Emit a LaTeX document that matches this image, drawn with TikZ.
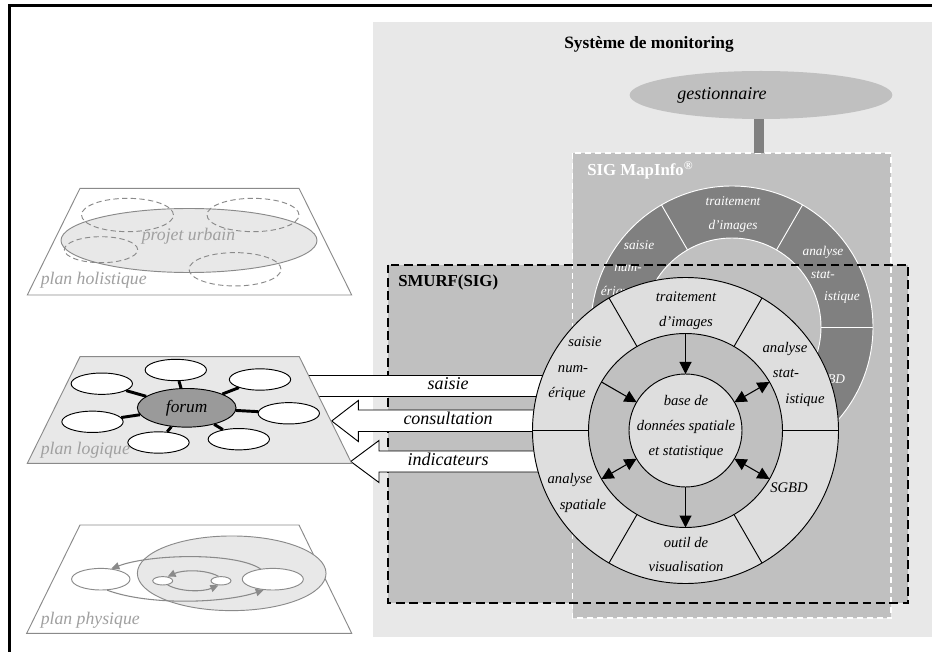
\documentclass[tikz,border=0pt]{standalone}
\usepackage{fontspec}
\setmainfont{Liberation Serif}
\usetikzlibrary{arrows.meta,calc,shapes.geometric,fit}

\definecolor{paleGray}{HTML}{E8E8E8}
\definecolor{boxGray}{HTML}{C0C0C0}
\definecolor{ringDark}{HTML}{808080}
\definecolor{ringPale}{HTML}{DEDEDE}
\definecolor{planeEdge}{HTML}{8A8A8A}
\definecolor{planeInk}{HTML}{A0A0A0}
\definecolor{forumFill}{HTML}{9A9A9A}

\tikzset{
  lbl/.style={inner sep=0pt, text height=1ex, text depth=0pt},
  wtext/.style={lbl, font=\fontsize{11}{13}\selectfont\itshape},
  stext/.style={lbl, font=\fontsize{10}{12}\selectfont\itshape, text=white},
  ptext/.style={lbl, anchor=west, font=\fontsize{13.3}{15}\selectfont\itshape, text=planeInk},
  atext/.style={lbl, font=\fontsize{13.5}{15}\selectfont\itshape},
  boldlbl/.style={lbl, font=\fontsize{12.6}{14}\selectfont\bfseries},
  plane/.style={draw=planeEdge, line width=0.7pt},
  bubble/.style={ellipse, draw=black, fill=white, line width=0.7pt,
    minimum width=46pt, minimum height=16pt, inner sep=0pt},
  spoke/.style={line width=2.2pt},
  zone/.style={ellipse, draw=planeEdge, fill=paleGray, line width=0.7pt, inner sep=0pt},
  zonedash/.style={ellipse, draw=planeEdge, line width=0.7pt, inner sep=0pt,
    dash pattern=on 4pt off 2.5pt},
  site/.style={ellipse, draw=planeEdge, fill=white, line width=0.7pt, inner sep=0pt},
  flow/.style={draw=planeEdge, line width=0.8pt, -{Triangle[length=6pt,width=5.5pt]}},
  blockarrow/.style={draw=black, fill=white, line width=0.7pt},
  smurfedge/.style={draw=black, line width=1.3pt, dash pattern=on 6.5pt off 3.5pt},
  sigedge/.style={draw=white, line width=1.3pt, dash pattern=on 4.5pt off 3pt},
  ringtip/.style={line width=0.8pt, -{Triangle[length=9pt,width=9pt]}},
  ringtips/.style={line width=0.8pt,
    {Triangle[length=9pt,width=9pt]}-{Triangle[length=9pt,width=9pt]}},
}

\begin{document}
\begin{tikzpicture}[x=0.75pt, y=-0.75pt]
\useasboundingbox (0,0) rectangle (932,652);
\clip (0,0) rectangle (932,652);

% outer frame
\draw[line width=2pt] (9.7,5.3) rectangle (990,700);

% monitoring system area
\node[fit={(372.5,22.5) (960,637)}, inner sep=0pt, fill=paleGray] (monitor) {};
\node[boldlbl, font=\fontsize{13}{15}\selectfont\bfseries] (montitle) at (649,45) {Système de monitoring};

% SMURF area (fill only, border drawn later)
\node[fit={(388,265) (908,603)}, inner sep=0pt, fill=boxGray] (smurf) {};

% SIG MapInfo area
\node[fit={(572.7,153) (891,618)}, inner sep=0pt, fill=boxGray] (sig) {};
\draw[sigedge] (sig.north west) rectangle (sig.south east);

% manager
\node[ellipse, fill=boxGray, minimum width=197pt, minimum height=36pt, inner sep=0pt]
  (gest) at (761,95) {};
\node[atext] (gesttxt) at (722,96) {gestionnaire};
\draw[ringDark, line width=6.8pt] (gest.south -| 759,0) -- (759,0 |- sig.north);

% SIG MapInfo wheel
\coordinate (sgc) at (732,327);
\fill[ringDark] (sgc) circle[radius=141];
\draw[white, line width=0.7pt] (sgc) circle[radius=141];
\filldraw[fill=boxGray, draw=white, line width=0.7pt] (sgc) circle[radius=89];
\foreach \a in {0,60,...,300}
  \draw[white, line width=0.7pt] ($(sgc)+(\a:89)$) -- ($(sgc)+(\a:141)$);
\node[boldlbl, text=white, anchor=west] (siglbl) at (587,172) {SIG MapInfo\textsuperscript{®}};
\node[stext] (sg1) at (733,202) {traitement};
\node[stext] (sg2) at (733,226) {d’images};
\node[stext] (sg3) at (639,246) {saisie};
\node[stext] (sg4) at (628,268) {num-};
\node[stext] (sg5) at (618,292) {érique};
\node[stext] (sg6) at (823,252) {analyse};
\node[stext] (sg7) at (823,275) {stat-};
\node[stext] (sg8) at (842,297) {istique};
\node[stext] (sg9) at (828,380) {SGBD};

% SMURF border and label
\draw[smurfedge] (smurf.north west) rectangle (smurf.south east);
\node[boldlbl, anchor=west] (smurflbl) at (398,283) {SMURF(SIG)};

% exchange arrows between the logical plane and SMURF
\coordinate (sa1) at (300,375);   \coordinate (sa2) at (550,396.7);
\path[blockarrow] (sa1) rectangle (sa2);
\node[atext] (satxt) at (448,386) {saisie};

\coordinate (co) at (331.7,421);
\path[blockarrow] (co) -- ++(26.6,-20.5) -- ++(0,9.5) -- ++(190,0) -- ++(0,21.5)
  -- ++(-190,0) -- ++(0,10) -- cycle;
\node[atext] (cotxt) at (448,421) {consultation};

\coordinate (in) at (350.7,461.5);
\path[blockarrow] (in) -- ++(28.3,-21) -- ++(0,10.5) -- ++(170,0) -- ++(0,21)
  -- ++(-170,0) -- ++(0,10.5) -- cycle;
\node[atext] (intxt) at (448,462) {indicateurs};

% SMURF wheel
\coordinate (smc) at (685.5,430.5);
\filldraw[fill=ringPale, draw=black, line width=0.7pt] (smc) circle[radius=153];
\filldraw[fill=boxGray, draw=black, line width=0.7pt] (smc) circle[radius=97];
\filldraw[fill=ringPale, draw=black, line width=0.7pt] (smc) circle[radius=56.5];
\foreach \a in {0,60,...,300}
  \draw[line width=0.7pt] ($(smc)+(\a:97)$) -- ($(smc)+(\a:153)$);

\foreach \a in {-90,-150,-30,30,90,150} {
  \coordinate (o\a) at ($(smc)+(\a:97)$);
  \coordinate (i\a) at ($(smc)+(\a:56.5)$);
}
\draw[ringtip] (o-90) -- (i-90);
\draw[ringtip] (o-150) -- (i-150);
\draw[ringtips] (o-30) -- (i-30);
\draw[ringtips] (o30) -- (i30);
\draw[ringtip] (i90) -- (o90);
\draw[ringtips] (o150) -- (i150);

\node[wtext] (w1) at (686,298) {traitement};
\node[wtext] (w2) at (686,323) {d’images};
\node[wtext] (w3) at (585,343) {saisie};
\node[wtext] (w4) at (573,369) {num-};
\node[wtext] (w5) at (567,394) {érique};
\node[wtext] (w6) at (785,349) {analyse};
\node[wtext] (w7) at (786,374) {stat-};
\node[wtext] (w8) at (805,400) {istique};
\node[wtext] (w9) at (789,489) {SGBD};
\node[wtext] (w10) at (686,544) {outil de};
\node[wtext] (w11) at (686,568) {visualisation};
\node[wtext] (w12) at (570,480) {analyse};
\node[wtext] (w13) at (583,506) {spatiale};
\node[wtext] (w14) at (686,402) {base de};
\node[wtext] (w15) at (686,427) {données spatiale};
\node[wtext] (w16) at (686,452) {et statistique};

% holistic plane
\draw[plane, fill=white] (80,188.3) -- (299,188.3) -- (351.7,295) -- (27.3,295) -- cycle;
\node[zone, minimum width=192pt, minimum height=48pt] (projet) at (189,240.5) {};
\node[zonedash, minimum width=69pt, minimum height=25pt] (h1) at (127.5,215) {};
\node[zonedash, minimum width=69pt, minimum height=25pt] (h2) at (253,215) {};
\node[zonedash, minimum width=55pt, minimum height=19.5pt] (h3) at (101,249.7) {};
\node[zonedash, minimum width=69pt, minimum height=25pt] (h4) at (235,269.3) {};
\node[ptext, anchor=center] (projtxt) at (188.5,237.5) {projet urbain};
\node[ptext] (holtxt) at (40.5,281.5) {plan holistique};

% logical plane
\draw[plane, fill=paleGray] (80,356.7) -- (299.3,356.7) -- (351.7,463.3) -- (27.3,463.3) -- cycle;
\node[bubble] (b1) at (175.8,370) {};
\node[bubble] (b2) at (101.8,383.7) {};
\node[bubble] (b3) at (260,379.5) {};
\node[bubble] (b4) at (288.8,413.3) {};
\node[bubble] (b5) at (92.5,421.8) {};
\node[bubble] (b6) at (158.5,442.5) {};
\node[bubble] (b7) at (238.8,439.2) {};
\node[ellipse, draw=black, fill=forumFill, line width=0.7pt, minimum width=74pt,
  minimum height=29pt, inner sep=0pt, font=\fontsize{13}{15}\selectfont\itshape]
  (forum) at (186.7,407.8) {forum};
\foreach \b in {b1,b2,b3,b4,b5,b6,b7}
  \draw[spoke] (forum) -- (\b);
\node[ptext] (logtxt) at (40.5,451.5) {plan logique};

% physical plane
\draw[plane, fill=white] (80,525) -- (299,525) -- (351.7,633.3) -- (26.7,633.3) -- cycle;
\node[zone, minimum width=141.5pt, minimum height=56pt] (city) at (231.7,573.3) {};
\node[site, minimum width=43.8pt, minimum height=16.2pt] (pl) at (100.8,579.2) {};
\node[site, minimum width=45.8pt, minimum height=16.2pt] (pr) at (272.8,579.2) {};
\node[site, minimum width=15pt, minimum height=6.3pt] (ps1) at (162.7,580.8) {};
\node[site, minimum width=15pt, minimum height=6.3pt] (ps2) at (221,580.8) {};
\draw[flow] (pr.140) .. controls (235,552) and (150,554) .. (pl.45);
\draw[flow] (pl.-60) .. controls (150,606) and (225,603) .. (pr.-130);
\draw[flow] (ps2.120) .. controls (205,569) and (182,570) .. (ps1.40);
\draw[flow] (ps1.-40) .. controls (180,592) and (203,592) .. (ps2.-120);
\node[ptext] (phytxt) at (40.5,621) {plan physique};

\end{tikzpicture}
\end{document}
